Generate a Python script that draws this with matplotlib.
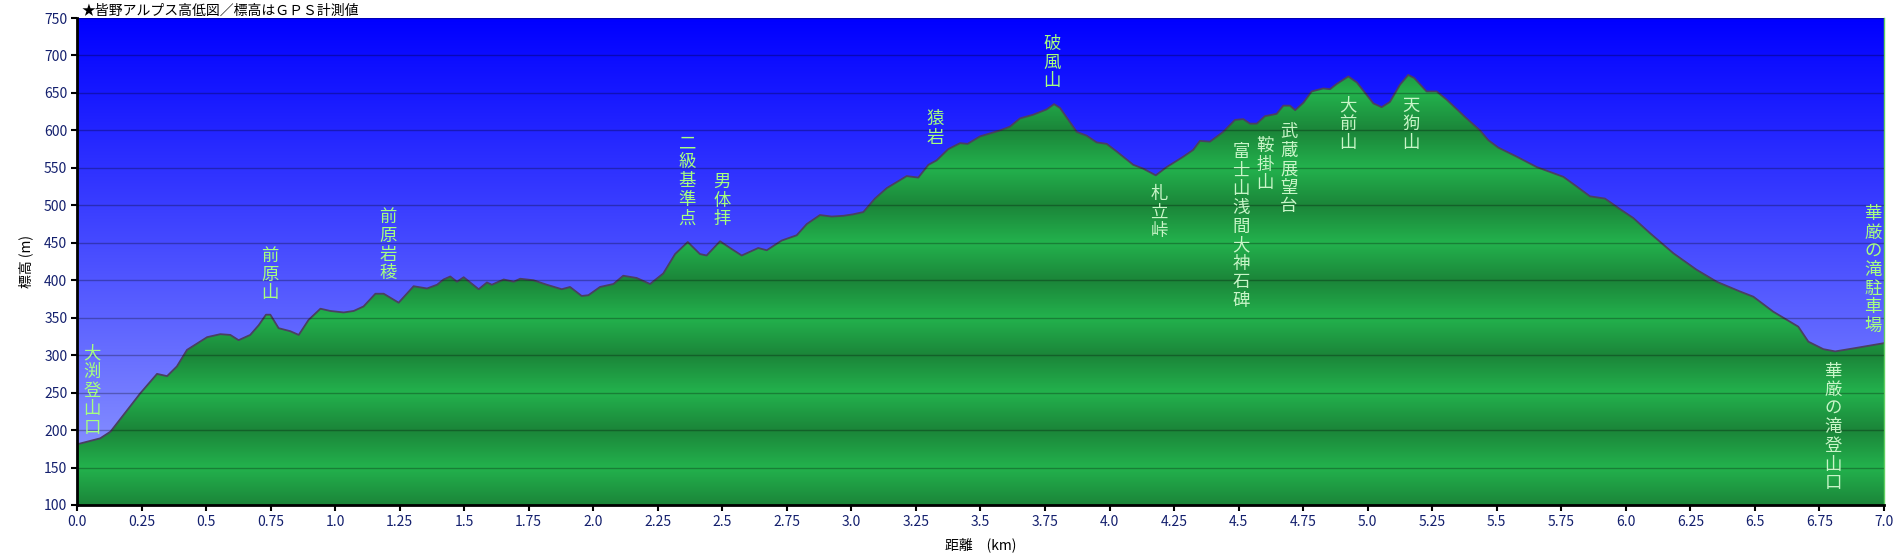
import numpy as np
import matplotlib
matplotlib.use('Agg')
import matplotlib.pyplot as plt
from matplotlib.patches import Polygon

plt.rcParams['font.family'] = ['Noto Sans CJK JP', 'DejaVu Sans']

# profile: distance (km) / elevation (m)
dist = [0.0, 0.09, 0.13, 0.245, 0.31, 0.349, 0.387, 0.426, 0.504, 0.555,
        0.594, 0.626, 0.671, 0.704, 0.732, 0.749, 0.781, 0.826, 0.859, 0.897,
        0.943, 0.981, 1.033, 1.072, 1.11, 1.156, 1.188, 1.246, 1.304, 1.356,
        1.395, 1.42, 1.446, 1.472, 1.498, 1.556, 1.588, 1.607, 1.653, 1.692,
        1.717, 1.768, 1.82, 1.878, 1.91, 1.955, 1.981, 2.026, 2.078, 2.116,
        2.168, 2.22, 2.271, 2.317, 2.366, 2.413, 2.439, 2.491, 2.53, 2.575,
        2.639, 2.672, 2.73, 2.788, 2.827, 2.878, 2.924, 2.969, 3.007, 3.046,
        3.091, 3.137, 3.214, 3.259, 3.298, 3.33, 3.375, 3.421, 3.45, 3.498,
        3.576, 3.614, 3.653, 3.705, 3.756, 3.785, 3.808, 3.873, 3.911, 3.95,
        3.989, 4.027, 4.092, 4.13, 4.179, 4.221, 4.286, 4.324, 4.35, 4.389,
        4.44, 4.486, 4.518, 4.544, 4.57, 4.602, 4.647, 4.673, 4.699, 4.719,
        4.751, 4.783, 4.828, 4.854, 4.88, 4.925, 4.958, 4.99, 5.022, 5.054,
        5.086, 5.125, 5.157, 5.18, 5.228, 5.267, 5.306, 5.383, 5.435, 5.467,
        5.506, 5.577, 5.655, 5.758, 5.81, 5.861, 5.919, 5.977, 6.029, 6.093,
        6.184, 6.274, 6.352, 6.442, 6.494, 6.571, 6.668, 6.707, 6.765, 6.811,
        6.881, 7.0]
elev = [181, 189, 198, 249, 275, 272, 285, 307, 324, 328,
        327, 320, 327, 340, 354, 354, 336, 332, 327, 347,
        362, 359, 357, 359, 365, 382, 382, 370, 392, 389,
        394, 401, 405, 398, 404, 388, 397, 394, 401, 398,
        402, 400, 394, 388, 391, 379, 380, 391, 395, 406,
        403, 395, 409, 435, 451, 435, 433, 452, 443, 433,
        443, 440, 453, 460, 475, 487, 485, 486, 488, 491,
        509, 523, 539, 537, 554, 560, 575, 583, 582, 592,
        600, 605, 616, 621, 628, 635, 630, 598, 593, 584,
        582, 572, 554, 549, 540, 551, 565, 574, 586, 585,
        598, 614, 615, 609, 609, 619, 622, 633, 633, 627,
        637, 652, 656, 655, 662, 672, 664, 650, 636, 631,
        638, 661, 674, 670, 652, 652, 641, 616, 600, 587,
        577, 565, 551, 538, 525, 512, 509, 495, 483, 463,
        436, 414, 398, 385, 378, 358, 338, 318, 308, 305,
        309, 316]

# waypoint labels (distance, top of text in m)
names = ['大渕登山口', '前原山', '前原岩稜', '二級基準点', '男体拝', '猿岩',
         '破風山', '札立峠', '富士山浅間大神石碑', '鞍掛山', '武蔵展望台',
         '大前山', '天狗山', '華厳の滝駐車場', '華厳の滝登山口']
name_x = [0.058, 0.748, 1.205, 2.363, 2.498, 3.324, 3.777, 4.192, 4.509,
          4.602, 4.695, 4.923, 5.168, 6.957, 6.803]
name_top = [314, 444, 496, 594, 543, 627, 727, 527, 583, 591, 610, 645,
            645, 500, 290]

x_ticks = [i * 0.25 for i in range(29)]
y_ticks = list(range(100, 751, 50))


def fmt_km(v):
    s = '{:.2f}'.format(v).rstrip('0')
    if s.endswith('.'):
        s += '0'
    return s


fig = plt.figure(figsize=(18.98, 5.57), dpi=100)
ax = fig.add_axes([77 / 1898, 52 / 557, 1807 / 1898, 487 / 557])
ax.set_xlim(0, 7)
ax.set_ylim(100, 750)

# sky gradient
t = np.linspace(0, 1, 300)[:, None]
bottom = np.array([150, 160, 255]) / 255
top = np.array([0, 0, 255]) / 255
sky = (bottom + (top - bottom) * t[..., None]) * np.ones((1, 2, 1))
ax.imshow(sky, extent=[0, 7, 100, 750], origin='lower', aspect='auto',
          zorder=0, interpolation='bilinear')

# banded green ground
yy = np.linspace(100, 750, 1300)
w = 1 - np.abs((yy % 100) / 50 - 1)
dark = np.array([27, 133, 57]) / 255
light = np.array([35, 178, 77]) / 255
ground = (dark + (light - dark) * w[:, None, None]) * np.ones((1, 2, 1))
img = ax.imshow(ground, extent=[0, 7, 100, 750], origin='lower',
                aspect='auto', zorder=1, interpolation='bilinear')
verts = np.column_stack([dist + [7.0, 0.0], elev + [100, 100]])
poly = Polygon(verts, closed=True, facecolor='none', edgecolor='none',
               transform=ax.transData)
ax.add_patch(poly)
img.set_clip_path(poly)

ax.plot(dist, elev, color='#4a4060', lw=1.3, zorder=2)

for name, x, ytop in zip(names, name_x, name_top):
    over = ytop > np.interp(x, dist, elev)
    col = '#a6ff80' if over else '#c8f5c8'
    for i, ch in enumerate(name):
        ax.annotate(ch, (x, ytop), xytext=(0, -i * 13.4),
                    textcoords='offset points', ha='center', va='top',
                    fontsize=12.5, color=col, zorder=4)

ax.set_xticks(x_ticks)
ax.set_xticklabels([fmt_km(v) for v in x_ticks])
ax.set_yticks(y_ticks)
ax.yaxis.grid(True, color='black', alpha=0.28, lw=1)
ax.set_axisbelow(False)
ax.tick_params(direction='out', length=4, width=1.5, colors='black',
               labelcolor='#14206e', labelsize=10, pad=3)

for side in ['top']:
    ax.spines[side].set_visible(False)
ax.spines['left'].set_linewidth(2)
ax.spines['bottom'].set_linewidth(2)
ax.spines['right'].set_color('#60d060')
ax.spines['right'].set_linewidth(1)

ax.set_ylabel('標高 (m)', fontsize=10, labelpad=8)
ax.set_xlabel('距離　(km)', fontsize=10, labelpad=6)

fig.text(81 / 1898, 1 - 11 / 557, '★皆野アルプス高低図／標高はＧＰＳ計測値',
         fontsize=10, va='center', ha='left')

fig.savefig('out.png', dpi=100)
